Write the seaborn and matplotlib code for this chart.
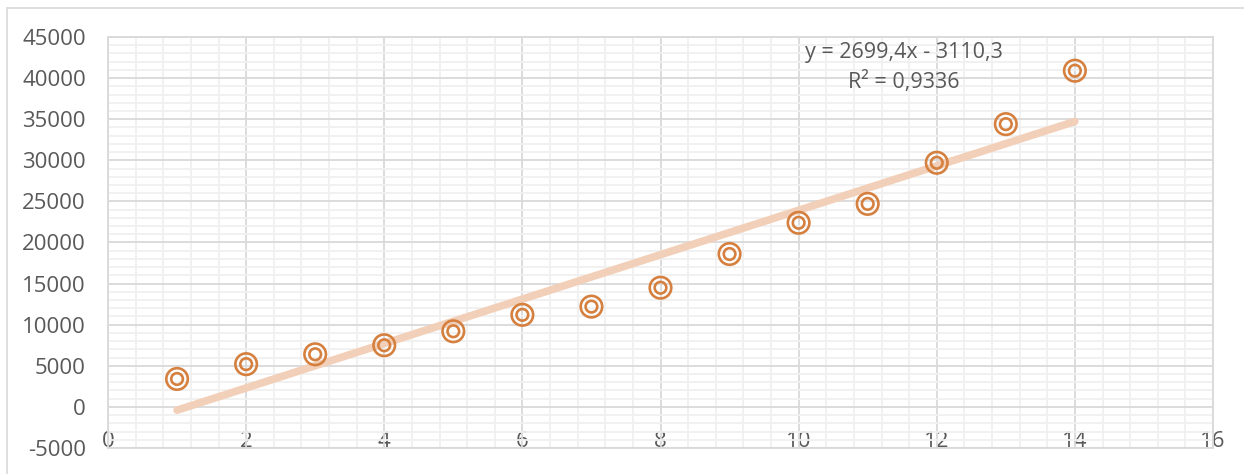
import numpy as np
import matplotlib
matplotlib.use('Agg')
import matplotlib.pyplot as plt
import seaborn as sns
from matplotlib.ticker import MultipleLocator
from matplotlib.patches import Rectangle

x_vals = [1, 2, 3, 4, 5, 6, 7, 8, 9, 10, 11, 12, 13, 14]
y_vals = [3400, 5200, 6400, 7500, 9200, 11200, 12200, 14500,
          18600, 22400, 24700, 29700, 34400, 40900]
x_ticks = [0, 2, 4, 6, 8, 10, 12, 14, 16]
eq_text = 'y = 2699,4x - 3110,3\nR² = 0,9336'

sns.set_style('white')
plt.rcParams['font.family'] = ['Open Sans', 'DejaVu Sans']
plt.rcParams['axes.unicode_minus'] = False

orange = '#D5803F'
peach = '#F2CFB8'
txt = '#595959'

fig = plt.figure(figsize=(12.44, 4.74), dpi=100)
ax = fig.add_axes([108/1244, 1 - 448/474, (1213-108)/1244, (448-37)/474])

# chart area border (only top/left visible in the crop)
fig.patches.append(Rectangle((7/1244, -0.5), 2, 1.5 - 8/474, transform=fig.transFigure,
                             fill=False, edgecolor='#D9D9D9', linewidth=1.2))

sns.regplot(x=x_vals, y=y_vals, scatter=False, ci=None, truncate=True, ax=ax,
            line_kws=dict(color=peach, linewidth=5.5, solid_capstyle='round', zorder=2))
sns.scatterplot(x=x_vals, y=y_vals, ax=ax, s=240, marker='o', facecolor='none',
                edgecolor=orange, linewidth=1.9, zorder=3)
sns.scatterplot(x=x_vals, y=y_vals, ax=ax, s=70, marker='o', facecolor='none',
                edgecolor=orange, linewidth=1.9, zorder=3)

ax.set_xlim(0, 16)
ax.set_ylim(-5000, 45000)
ax.xaxis.set_major_locator(MultipleLocator(2))
ax.xaxis.set_minor_locator(MultipleLocator(0.4))
ax.yaxis.set_major_locator(MultipleLocator(5000))
ax.yaxis.set_minor_locator(MultipleLocator(1000))
ax.set_axisbelow(True)
ax.grid(which='major', color='#D9D9D9', linewidth=1.3)
ax.grid(which='minor', color='#F0F0F0', linewidth=1.3)
for sp in ax.spines.values():
    sp.set_color('#D9D9D9')
    sp.set_linewidth(1.3)

ax.tick_params(axis='y', which='both', length=0, pad=16, labelsize=16, labelcolor=txt)
ax.tick_params(axis='x', which='both', length=0, labelbottom=False)

# x labels sit under the y=0 line, as in Excel
loc = (0 - (-5000)) / 50000
sec = ax.secondary_xaxis(loc)
sec.set_xticks(x_ticks)
sec.tick_params(length=0, pad=17, labelsize=16, labelcolor=txt)
sec.spines['bottom'].set_visible(False)
sec.spines['top'].set_visible(False)

ax.text(11.52, 41300, eq_text, ha='center', va='center', fontsize=15.5,
        color=txt, linespacing=1.45)

fig.savefig('out.png', dpi=100, facecolor='white')
